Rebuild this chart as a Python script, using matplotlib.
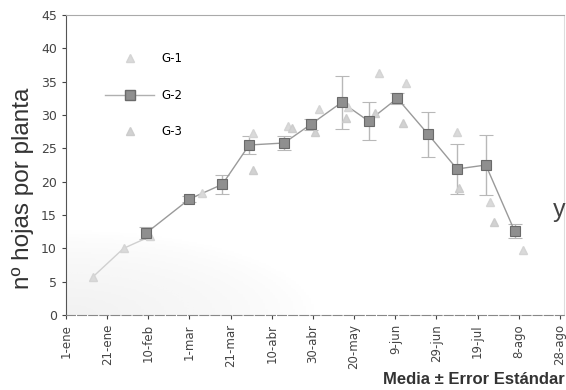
import numpy as np
import matplotlib.pyplot as plt
from matplotlib.lines import Line2D

# day of year (leap year, 0 = 1 January)
tick_days = [0, 20, 40, 60, 80, 100, 120, 140, 160, 180, 200, 220, 240]
tick_labels = ['1-ene', '21-ene', '10-feb', '1-mar', '21-mar', '10-abr', '30-abr',
               '20-may', '9-jun', '29-jun', '19-jul', '8-ago', '28-ago']

# G-2: mean leaves per plant and standard error
g2_days = [39, 60, 76, 89, 106, 119, 134, 147, 161, 176, 190, 204, 218]
g2_vals = [12.3, 17.4, 19.6, 25.5, 25.8, 28.6, 31.9, 29.1, 32.5, 27.1, 21.9, 22.5, 12.6]
g2_err = [0.9, 0.5, 1.4, 1.4, 1.0, 0.8, 4.0, 2.8, 0.8, 3.4, 3.7, 4.5, 1.0]

# G-1 and G-3
g1_days = [13, 28, 41, 66, 91, 108, 123, 137, 152, 165, 190, 206, 222]
g1_vals = [5.7, 10.0, 11.8, 18.3, 27.3, 28.3, 30.9, 31.2, 36.3, 34.8, 27.4, 17.0, 9.8]
g3_days = [91, 110, 121, 136, 150, 164, 191, 208]
g3_vals = [21.7, 28.0, 27.4, 29.5, 30.3, 28.8, 19.0, 14.0]

fig = plt.figure(figsize=(5.66, 3.9), dpi=100)
ax = fig.add_axes([66 / 566, 75 / 390, 498 / 566, 300 / 390])

# faint haze in the lower left corner
xx, yy = np.meshgrid(np.linspace(0, 1, 200), np.linspace(0, 1, 200))
haze = np.clip(1 - np.sqrt((xx / 0.5) ** 2 + (yy / 0.28) ** 2), 0, 1) ** 0.7
ax.imshow(haze, extent=[0, 242, 0, 45], origin='lower', aspect='auto',
          cmap='Greys', vmin=0, vmax=9, zorder=0)

# faint line joining the first points
ax.plot(g1_days[:3], g1_vals[:3], color='#d0d0d0', lw=1, zorder=1)

ax.errorbar(g2_days, g2_vals, yerr=g2_err, fmt='none', ecolor='#b8b8b8',
            elinewidth=1, capsize=5, capthick=0.8, zorder=2)
ax.plot(g2_days, g2_vals, color='#9a9a9a', lw=1, zorder=2)
ax.plot(g1_days, g1_vals, '^', ms=5.5, color='#dadada', mec='#d4d4d4', zorder=3)
ax.plot(g3_days, g3_vals, '^', ms=5.5, color='#d2d2d2', mec='#cccccc', zorder=3)
ax.plot(g2_days, g2_vals, 's', ms=7, color='#8f8f8f', mec='#6a6a6a', mew=0.8, zorder=4)

ax.set_xlim(0, 242)
ax.set_ylim(0, 45)
ax.set_yticks(range(0, 50, 5))
ax.set_xticks(tick_days)
ax.set_xticklabels(tick_labels, rotation=90, fontsize=8.5, color='#333333')
ax.tick_params(axis='y', labelsize=9, colors='#444444', length=3)
ax.tick_params(axis='x', length=3, colors='#444444')

ax.spines['left'].set_color('#555555')
ax.spines['bottom'].set_color('#888888')
ax.spines['bottom'].set_linestyle((0, (8, 2)))
ax.spines['top'].set_color('#aaaaaa')
ax.spines['right'].set_color('#dddddd')

ax.set_ylabel('nº hojas por planta', fontsize=17.5, color='#333333',
              family='Liberation Sans')
ax.yaxis.set_label_coords(-32 / 498, 0.423)

handles = [
    Line2D([], [], ls='none', marker='^', ms=5.5, color='#dadada', mec='#d4d4d4'),
    Line2D([], [], color='#b0b0b0', lw=1, marker='s', ms=7, mfc='#8f8f8f', mec='#6a6a6a'),
    Line2D([], [], ls='none', marker='^', ms=5.5, color='#d2d2d2', mec='#cccccc'),
]
ax.legend(handles, ['G-1', 'G-2', 'G-3'], loc='upper left', bbox_to_anchor=(0.066, 0.895),
          frameon=False, fontsize=8.5, handlelength=4.2, handletextpad=0.6,
          labelspacing=1.97, borderpad=0)

fig.text(383 / 566, 1 - 379 / 390, 'Media ± Error Estándar', fontsize=12,
         fontweight='bold', family='Liberation Sans', color='#333333',
         va='center', ha='left')
fig.text(553 / 566, 1 - 210 / 390, 'y', fontsize=18, family='Liberation Sans',
         color='#444444', va='center', ha='left')

fig.savefig('out.png', dpi=100)
